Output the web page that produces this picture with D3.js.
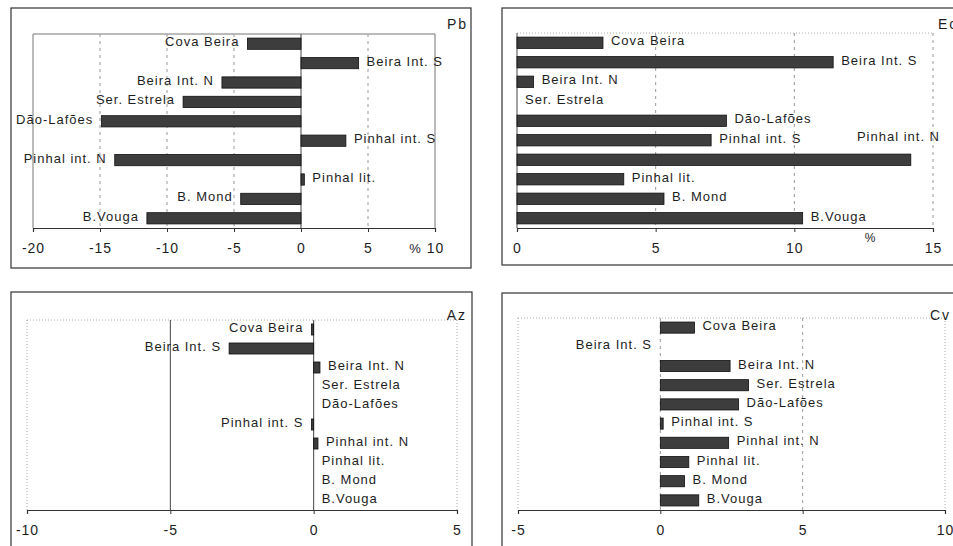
<!DOCTYPE html>
<html>
<head>
<meta charset="utf-8">
<script src="https://cdn.jsdelivr.net/npm/d3@7"></script>
<style>
  body { margin: 0; background: #fff; }
  svg { display: block; }
  text { font-family: "Liberation Sans", Arial, sans-serif; fill: #1e1e1e; }
</style>
</head>
<body>
<script>
// regions, top to bottom
const regions = ['Cova Beira', 'Beira Int. S', 'Beira Int. N', 'Ser. Estrela', 'Dão-Lafões',
  'Pinhal int. S', 'Pinhal int. N', 'Pinhal lit.', 'B. Mond', 'B.Vouga'];

// % change per panel
const pbValues = [-4.0, 4.3, -5.9, -8.8, -14.9, 3.35, -13.9, 0.25, -4.5, -11.5];
const ecValues = [3.1, 11.4, 0.6, 0, 7.55, 7.0, 14.2, 3.85, 5.3, 10.3];
const azValues = [-0.08, -2.95, 0.22, 0, 0, -0.08, 0.15, 0, 0, 0];
const cvValues = [1.2, -0.01, 2.45, 3.1, 2.75, 0.1, 2.4, 1.0, 0.85, 1.35];

const pbTicks = [-20, -15, -10, -5, 0, 5, 10];
const ecTicks = [0, 5, 10, 15];
const azTicks = [-10, -5, 0, 5];
const cvTicks = [-5, 0, 5, 10];

const WIDTH = 953;
const HEIGHT = 546;

const panels = [
  { name: 'Pb', values: pbValues, ticks: pbTicks, domain: [-20, 10],
    frame: [11, 8, 471, 268], plot: [33, 34, 435, 228],
    title: { x: 468, y: 29, anchor: 'end' }, pct: { x: 415, y: 253, size: 13 },
    grid: [[-20, 'edge'], [-15, 'dash'], [-10, 'dash'], [-5, 'dash'], [0, 'solid'], [5, 'dash'], [10, 'edge']],
    top: 'edge' },
  { name: 'Ec', values: ecValues, ticks: ecTicks, domain: [0, 15],
    frame: [502, 8, 970, 265], plot: [517, 33, 933, 228],
    title: { x: 938, y: 29, anchor: 'start' }, pct: { x: 870, y: 242, size: 12 },
    grid: [[0, 'solid'], [5, 'dash'], [10, 'dash'], [15, 'dash']],
    top: 'dot' },
  { name: 'Az', values: azValues, ticks: azTicks, domain: [-10, 5],
    frame: [11, 292, 472, 570], plot: [27, 320, 457, 510],
    title: { x: 467, y: 320, anchor: 'end' }, pct: null,
    grid: [[-10, 'dot'], [-5, 'solid'], [0, 'solid'], [5, 'dot']],
    top: 'dot' },
  { name: 'Cv', values: cvValues, ticks: cvTicks, domain: [-5, 10],
    frame: [502, 293, 970, 570], plot: [518, 318, 945, 510],
    title: { x: 930, y: 320, anchor: 'start' }, pct: null,
    grid: [[-5, 'dot'], [0, 'dash'], [5, 'dash'], [10, 'dot']],
    top: 'dot' }
];

const gridStyle = {
  solid: { stroke: '#444', dash: null, width: 1 },
  edge: { stroke: '#777', dash: null, width: 1 },
  dash: { stroke: '#999', dash: '3,4', width: 1 },
  dot: { stroke: '#aaa', dash: '1,2', width: 1 }
};

const svg = d3.select('body').append('svg')
  .attr('width', WIDTH)
  .attr('height', HEIGHT)
  .attr('viewBox', `0 0 ${WIDTH} ${HEIGHT}`);

panels.forEach(p => {
  const [fx0, fy0, fx1, fy1] = p.frame;
  const [px0, py0, px1, py1] = p.plot;
  const g = svg.append('g');

  // outer frame
  g.append('rect')
    .attr('x', fx0).attr('y', fy0)
    .attr('width', fx1 - fx0).attr('height', fy1 - fy0)
    .attr('fill', 'none').attr('stroke', '#333').attr('stroke-width', 1.2);

  const x = d3.scaleLinear().domain(p.domain).range([px0, px1]);
  const y = d3.scaleBand().domain(regions).range([py0, py1])
    .paddingInner(0.42).paddingOuter(0.21);

  // top border of plot area
  const ts = gridStyle[p.top];
  g.append('line')
    .attr('x1', px0).attr('x2', px1).attr('y1', py0).attr('y2', py0)
    .attr('stroke', ts.stroke).attr('stroke-width', ts.width)
    .attr('stroke-dasharray', ts.dash);

  // vertical grid lines
  g.selectAll('line.grid')
    .data(p.grid)
    .enter()
    .append('line')
    .attr('class', 'grid')
    .attr('x1', d => x(d[0])).attr('x2', d => x(d[0]))
    .attr('y1', py0).attr('y2', py1)
    .attr('stroke', d => gridStyle[d[1]].stroke)
    .attr('stroke-width', d => gridStyle[d[1]].width)
    .attr('stroke-dasharray', d => gridStyle[d[1]].dash);

  // bars
  const barW = d => Math.abs(x(d) - x(0));
  g.selectAll('rect.bar')
    .data(p.values)
    .enter()
    .append('rect')
    .attr('class', 'bar')
    .attr('x', d => Math.min(x(0), x(d)))
    .attr('y', (d, i) => y(regions[i]))
    .attr('width', barW)
    .attr('height', y.bandwidth())
    .attr('fill', d => barW(d) < 1 ? 'none' : '#3d3d3d')
    .attr('stroke', '#111')
    .attr('stroke-width', d => barW(d) < 1 ? 0 : 0.8);

  // bar labels
  const labels = g.selectAll('text.lab')
    .data(p.values)
    .enter()
    .append('text')
    .attr('class', 'lab')
    .attr('font-size', 13)
    .attr('letter-spacing', 1)
    .attr('dominant-baseline', 'central')
    .attr('x', d => d < 0 ? x(d) - 8 : x(d) + 8)
    .attr('y', (d, i) => y(regions[i]) + y.bandwidth() / 2 - 2)
    .attr('text-anchor', d => d < 0 ? 'end' : 'start')
    .text((d, i) => regions[i]);

  // a label that would run off the picture goes up above its bar
  const limit = Math.min(fx1, WIDTH);
  labels.each(function (d, i) {
    const w = this.getComputedTextLength();
    if (d >= 0 && x(d) + 8 + w > limit) {
      d3.select(this)
        .attr('x', px1 + 7).attr('text-anchor', 'end')
        .attr('y', y(regions[i]) + y.bandwidth() / 2 - y.step() * 1.2);
    }
  });

  // x axis
  const axis = d3.axisBottom(x)
    .tickValues(p.ticks)
    .tickSize(4)
    .tickPadding(11)
    .tickFormat(d3.format('d'));

  const ax = g.append('g')
    .attr('transform', `translate(0,${py1})`)
    .call(axis);
  ax.select('.domain').attr('stroke', '#333').attr('stroke-width', 1.2);
  ax.selectAll('.tick line').attr('stroke', '#333');
  ax.selectAll('.tick text')
    .attr('font-size', 14)
    .attr('letter-spacing', 1)
    .attr('font-family', '"Liberation Sans", Arial, sans-serif')
    .attr('fill', '#1e1e1e')
    .text(d => d < 0 ? '-' + Math.abs(d) : d);

  if (p.pct) {
    g.append('text')
      .attr('x', p.pct.x).attr('y', p.pct.y)
      .attr('text-anchor', 'middle')
      .attr('font-size', p.pct.size)
      .text('%');
  }

  // panel name
  g.append('text')
    .attr('x', p.title.x).attr('y', p.title.y)
    .attr('text-anchor', p.title.anchor)
    .attr('font-size', 14)
    .attr('letter-spacing', 2)
    .text(p.name);
});
</script>
</body>
</html>
